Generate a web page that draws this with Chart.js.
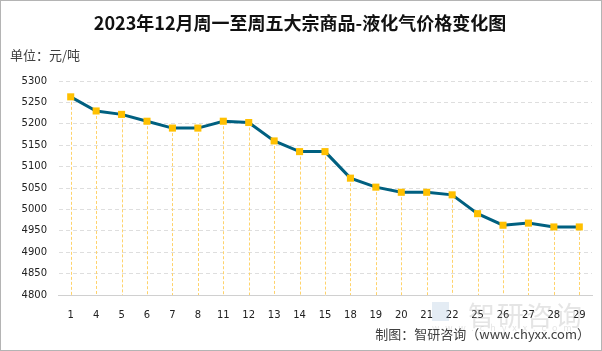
<!DOCTYPE html>
<html>
<head>
<meta charset="utf-8">
<script src="https://cdn.jsdelivr.net/npm/chart.js@4/dist/chart.umd.min.js"></script>
<style>
  html, body { margin: 0; padding: 0; background: #fff; }
  #wrap { position: relative; width: 602px; height: 351px; overflow: hidden; }
  #frame { position: absolute; left: 0; top: 0; width: 602px; height: 351px; box-sizing: border-box; border: 1px solid #b4b4b4; pointer-events: none; }
  canvas { position: absolute; left: 0; top: 0; }
  .txt { position: absolute; white-space: nowrap; font-family: "Noto Sans CJK SC", "Noto Sans", sans-serif; }
  #title { left: 0; width: 600px; top: 9px; text-align: center; font-size: 18px; line-height: 26px; font-weight: bold; color: #111; }
  #unit { left: 10px; top: 45px; font-size: 13px; line-height: 20px; color: #404040; }
  #source { right: 12px; top: 324px; font-size: 13px; color: #404040; }
  #wm { left: 468px; top: 295px; font-size: 27px; color: rgba(170,170,170,0.3); letter-spacing: 2px; }
  #wm2 { left: 432px; top: 302px; width: 17px; height: 19px; background: rgba(120,160,200,0.2); }
  #wm3 { left: 432px; top: 321px; font-size: 9px; color: rgba(170,170,170,0.3); letter-spacing: 6px; }
</style>
</head>
<body>
<div id="wrap">
  <canvas id="chart" width="602" height="351"></canvas>
  <div class="txt" id="wm2"></div>
  <div class="txt" id="wm">智研咨询</div>
  <div class="txt" id="wm3">www.chyxx.com</div>
  <div class="txt" id="title">2023年12月周一至周五大宗商品-液化气价格变化图</div>
  <div class="txt" id="unit">单位：元/吨</div>
  <div class="txt" id="source">制图：智研咨询（www.chyxx.com）</div>
  <div id="frame"></div>
</div>
<script>
// 日期（12月的交易日）
const days = ["1", "4", "5", "6", "7", "8", "11", "12", "13", "14", "15",
              "18", "19", "20", "21", "22", "25", "26", "27", "28", "29"];
// 液化气价格，元/吨
const prices = [5263, 5230, 5222, 5206, 5190, 5190, 5206, 5203, 5160, 5135, 5135,
                5073, 5052, 5040, 5040, 5034, 4990, 4963, 4968, 4959, 4959];
// y 轴刻度范围
const yMin = 4800;
const yMax = 5300;
const yStep = 50;

// 每个点往下画一条虚线到 x 轴
const dropLines = {
  id: "dropLines",
  beforeDatasetsDraw(chart) {
    const ctx = chart.ctx;
    const bottom = chart.chartArea.bottom;
    const meta = chart.getDatasetMeta(0);
    ctx.save();
    ctx.strokeStyle = "#ffd36b";
    ctx.lineWidth = 1;
    ctx.setLineDash([3, 2]);
    meta.data.forEach(pt => {
      const x = Math.round(pt.x) + 0.5;
      ctx.beginPath();
      ctx.moveTo(x, pt.y);
      ctx.lineTo(x, bottom);
      ctx.stroke();
    });
    ctx.restore();
  }
};

new Chart(document.getElementById("chart"), {
  type: "line",
  data: {
    labels: days,
    datasets: [{
      data: prices,
      borderColor: "#006080",
      borderWidth: 3,
      tension: 0,
      pointStyle: "rect",
      pointRadius: 5,
      pointBackgroundColor: "#ffc000",
      pointBorderColor: "#ffc000",
      pointBorderWidth: 0
    }]
  },
  options: {
    responsive: false,
    animation: false,
    layout: { padding: { top: 81, right: 10, bottom: 26, left: 0 } },
    plugins: { legend: { display: false }, tooltip: { enabled: false } },
    scales: {
      x: {
        offset: true,
        afterFit(scale) { scale.height = 30; },
        grid: { display: false },
        border: { display: true, color: "#d0d0d0", width: 1 },
        ticks: { color: "#222", padding: 6, font: { family: "DejaVu Sans", size: 10 }, maxRotation: 0, autoSkip: false }
      },
      y: {
        min: yMin,
        max: yMax,
        afterFit(scale) { scale.width = 58; },
        grid: {
          color: ctx => ctx.tick && ctx.tick.value === yMin ? "rgba(0,0,0,0)" : "#dedede",
          tickLength: 0
        },
        border: { display: true, color: "rgba(0,0,0,0)", dash: [4, 3] },
        ticks: {
          stepSize: yStep, color: "#222", padding: 11,
          font: { family: "DejaVu Sans", size: 10 },
          callback: v => String(v)
        }
      }
    }
  },
  plugins: [dropLines]
});
</script>
</body>
</html>
